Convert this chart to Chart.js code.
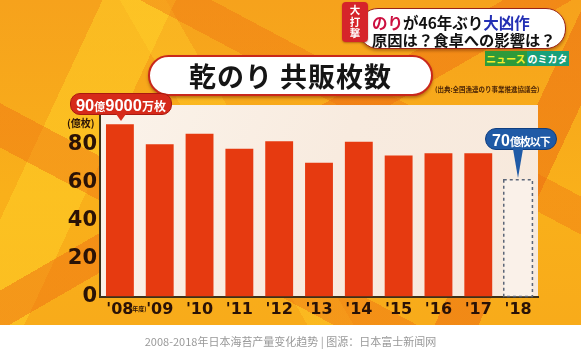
<!DOCTYPE html>
<html>
<head>
<meta charset="utf-8">
<script src="https://cdn.jsdelivr.net/npm/chart.js@4/dist/chart.umd.min.js"></script>
<style>
html,body{margin:0;padding:0;width:581px;height:363px;overflow:hidden;background:#fff;}
#wrap{position:relative;width:581px;height:363px;overflow:hidden;}
#bg{position:absolute;left:0;top:0;width:581px;height:325px;
 background:
 linear-gradient(150deg, transparent 0 44%, rgba(238,112,18,.5) 44% 50%, transparent 50%),
 linear-gradient(28deg, transparent 0 28%, rgba(238,112,18,.45) 28% 35%, transparent 35% 63%, rgba(238,112,18,.4) 63% 69%, transparent 69%),
 linear-gradient(115deg, transparent 0 14%, rgba(255,210,40,.5) 14% 24%, transparent 24% 80%, rgba(236,110,18,.55) 80% 86%, transparent 86%),
 linear-gradient(60deg, transparent 0 40%, rgba(255,205,40,.4) 40% 46%, transparent 46%),
 linear-gradient(180deg, #f6a21c 0%, #f9b01a 60%, #f8ab1a 100%);}
canvas{position:absolute;left:0;top:0;z-index:1;}
.ov{position:absolute;z-index:2;white-space:nowrap;}
.jp{font-family:"Noto Sans CJK JP","Noto Sans",sans-serif;font-weight:bold;}
#title{left:148px;top:55px;width:281px;height:37px;background:#fff;border:2px solid #c9281c;border-radius:21px;
 box-shadow:0 2px 3px rgba(110,40,0,.45);text-align:center;line-height:37px;font-size:27px;color:#151515;letter-spacing:1px;}
#src{left:435px;top:84px;font-size:6.5px;color:#4a2406;}
#badge{left:342px;top:2px;width:26px;height:40px;background:#d6242a;border-radius:4px;color:#fff;font-size:10.5px;line-height:11.5px;text-align:center;padding-top:2px;box-sizing:border-box;box-shadow:0 1px 2px rgba(90,20,0,.4);}
#banner{left:358px;top:8px;width:206px;height:39px;background:#fff;border:1.5px solid #9a2418;border-radius:20px;box-shadow:0 2px 3px rgba(90,30,0,.4);z-index:1;}
#bline1{left:372px;top:11px;font-size:15.5px;color:#111;z-index:3;}
#bline2{left:372px;top:28px;font-size:15.3px;color:#111;z-index:3;}
.crim{color:#cc1040;}
.blu{color:#2430b4;}
#logo{left:485px;top:53px;font-size:10px;line-height:12px;}
#logo .a{color:#f6ee2a;background:#2e9a3a;padding:0 1px;}
#logo .b{color:#fff;background:#18a07a;padding:0 1px;}
#yunit{left:67px;top:117px;font-size:10px;line-height:12px;color:#2a1206;}
#nendo{top:304px;font-size:6px;color:#2a1206;}
#c1{background:#d62a1a;color:#fff;border-radius:10px;height:20px;line-height:20px;padding:0 5px;border:1px solid #a81a10;}
#c1 .n{font-family:"Liberation Sans",Arial,sans-serif;font-weight:bold;font-size:16.5px;}
#c1 .s{font-size:11px;}
#c1 .s2{font-size:12px;}
#c1::after{content:"";position:absolute;left:45px;top:20px;border-left:5px solid transparent;border-right:5px solid transparent;border-top:7px solid #d62a1a;}
#c2{background:#1f5aa6;color:#fff;border-radius:11px;height:20px;line-height:20px;padding:0 6px;border:1px solid #103e80;}
#c2 .n{font-family:"Liberation Sans Narrow","Liberation Sans",sans-serif;font-weight:bold;font-size:16px;}
#c2 .s{font-size:11px;letter-spacing:-1px;}
#c2::after{content:"";position:absolute;left:27px;top:20px;border-left:5px solid transparent;border-right:5px solid transparent;border-top:29px solid #1f5aa6;}
#caption{left:0;top:333px;width:581px;text-align:center;font-family:"Noto Sans CJK SC",sans-serif;font-size:11px;color:#999;}
</style>
</head>
<body>
<div id="wrap">
<div id="bg"></div>
<canvas id="c" width="581" height="363" style="width:581px;height:363px"></canvas>
<div id="title" class="ov jp">乾のり 共販枚数</div>
<div id="src" class="ov jp">(出典:全国漁連のり事業推進協議会)</div>
<div id="banner" class="ov"></div>
<div id="badge" class="ov jp">大<br>打<br>撃</div>
<div id="bline1" class="ov jp"><span class="crim">のり</span>が46年ぶり<span class="blu">大凶作</span></div>
<div id="bline2" class="ov jp">原因は？食卓への影響は？</div>
<div id="logo" class="ov jp"><span class="a">ニュース</span><span class="b">のミカタ</span></div>
<div id="yunit" class="ov jp">(億枚)</div>
<div id="nendo" class="ov jp">(年度)</div>
<div id="c1" class="ov jp"><span class="n">90</span><span class="s">億</span><span class="n">9000</span><span class="s2">万枚</span></div>
<div id="c2" class="ov jp"><span class="n">70</span><span class="s">億枚以下</span></div>
<div id="caption" class="ov">2008-2018年日本海苔产量变化趋势 | 图源：日本富士新闻网</div>
</div>
<script>
// ---- data ----
const years = ["'08","'09","'10","'11","'12","'13","'14","'15","'16","'17","'18"];
const sales = [90.9, 80.3, 85.8, 77.9, 81.9, 70.6, 81.6, 74.3, 75.5, 75.5, null];
const forecast = [null, null, null, null, null, null, null, null, null, null, 61.6];
const yTicks = [0, 20, 40, 60, 80];

const panelPlugin = {
  id: 'panel',
  beforeDraw(chart) {
    const {ctx, chartArea: a} = chart;
    ctx.save();
    const g = ctx.createLinearGradient(a.left, a.top, a.right, a.bottom);
    g.addColorStop(0, '#fbf3ea');
    g.addColorStop(0.5, '#f8ebdf');
    g.addColorStop(1, '#f7e9dc');
    ctx.fillStyle = g;
    ctx.fillRect(a.left, a.top, a.right - a.left, a.bottom - a.top);
    ctx.restore();
  },
  afterDatasetsDraw(chart) {
    const ctx = chart.ctx;
    const meta = chart.getDatasetMeta(1);
    meta.data.forEach((el, i) => {
      if (forecast[i] == null) return;
      const p = el.getProps(['x', 'y', 'base', 'width'], true);
      ctx.save();
      ctx.setLineDash([3, 3]);
      ctx.lineWidth = 1.5;
      ctx.strokeStyle = '#5b6678';
      ctx.strokeRect(p.x - p.width / 2, p.y, p.width, p.base - p.y);
      ctx.restore();
    });
  },
  afterRender(chart) {
    const b0 = chart.getDatasetMeta(0).data[0];
    const c1 = document.getElementById('c1');
    c1.style.left = (b0.x - 50) + 'px';
    c1.style.top = (b0.y - 31) + 'px';
    const b1 = chart.getDatasetMeta(1).data[10];
    const c2 = document.getElementById('c2');
    c2.style.left = (b1.x - 33) + 'px';
    c2.style.top = (b1.y - 52) + 'px';
    const xs = chart.scales.x;
    document.getElementById('nendo').style.left = (xs.getPixelForValue(0) + 10) + 'px';
  }
};

new Chart(document.getElementById('c'), {
  type: 'bar',
  data: {
    labels: years,
    datasets: [
      {data: sales, backgroundColor: '#e63a10', borderWidth: 0, grouped: false,
       barPercentage: 0.7, categoryPercentage: 1.0},
      {data: forecast, backgroundColor: 'rgba(250,242,234,0.9)', borderWidth: 0, grouped: false,
       barPercentage: 0.72, categoryPercentage: 1.0}
    ]
  },
  options: {
    responsive: false,
    devicePixelRatio: 1,
    animation: false,
    layout: {padding: {top: 105, right: 43, left: 0, bottom: 0}},
    plugins: {legend: {display: false}, tooltip: {enabled: false}},
    scales: {
      x: {
        grid: {display: false, drawTicks: false},
        border: {display: true, color: '#3c3018', width: 2},
        ticks: {padding: 4, color: '#2a1206', maxRotation: 0, autoSkip: false,
                font: {family: 'DejaVu Sans', weight: 'bold', size: 16}},
        afterFit(s) { s.height = 66.5; }
      },
      y: {
        min: 0, max: 101,
        grid: {display: false, drawTicks: false},
        border: {display: true, color: '#3c3018', width: 2},
        ticks: {stepSize: 20, padding: 3, color: '#2a1206',
                font: {family: 'DejaVu Sans', weight: 'bold', size: 21},
                callback: (v) => yTicks.includes(v) ? String(v) : ''},
        afterFit(s) { s.width = 100; }
      }
    }
  },
  plugins: [panelPlugin]
});
</script>
</body>
</html>
